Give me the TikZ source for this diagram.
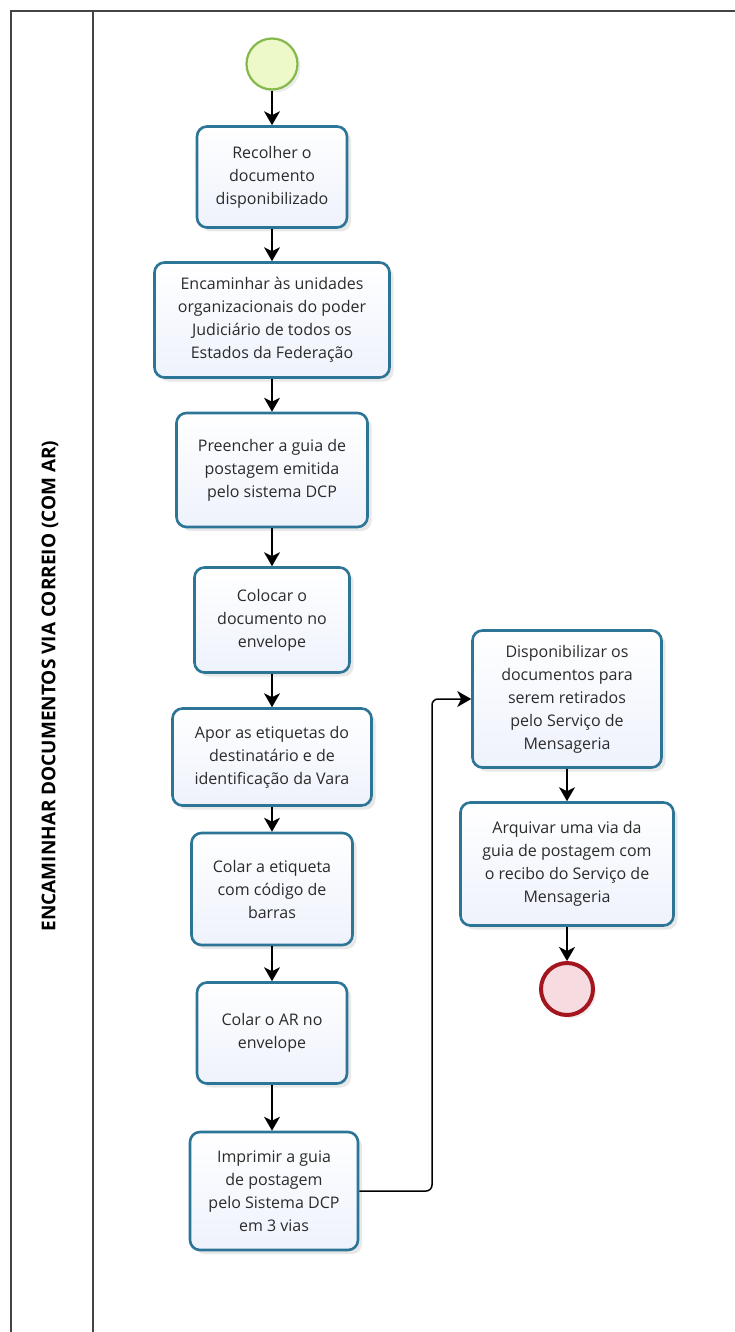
\documentclass[tikz,border=0pt]{standalone}
\usepackage{fontspec}
\setmainfont{Open Sans}
\usetikzlibrary{arrows.meta,shadows,positioning}
\definecolor{boxborder}{HTML}{2C7596}
\definecolor{boxfill}{HTML}{EEF2FC}
\definecolor{txt}{HTML}{2B2B2B}
\definecolor{startfill}{HTML}{EDF9C9}
\definecolor{startborder}{HTML}{86B84B}
\definecolor{endfill}{HTML}{F6DCE0}
\definecolor{endborder}{HTML}{A3161F}
\definecolor{lanecol}{HTML}{444444}
\tikzset{
  task/.style={draw=boxborder, line width=2.6pt, rounded corners=10pt,
    top color=white, bottom color=boxfill, text=txt, align=center,
    font=\fontsize{16}{23}\selectfont, inner sep=0pt,
    drop shadow={shadow xshift=4pt, shadow yshift=-4pt, opacity=0.18, fill=gray}},
  startev/.style={circle, draw=startborder, line width=2.2pt, fill=startfill,
    minimum size=51pt, inner sep=0pt,
    drop shadow={shadow xshift=3pt, shadow yshift=-3pt, opacity=0.15, fill=gray}},
  endev/.style={circle, draw=endborder, line width=4pt, fill=endfill,
    minimum size=52pt, inner sep=0pt,
    drop shadow={shadow xshift=3pt, shadow yshift=-3pt, opacity=0.15, fill=gray}},
  flow/.style={draw=black, line width=1.5pt, -{Stealth[length=14pt,width=16pt,inset=4pt]}},
  laneline/.style={draw=lanecol, line width=1.6pt}
}
\begin{document}
\begin{tikzpicture}[x=1pt,y=-1pt]
\useasboundingbox (0,0) rectangle (735,1332);
% pool / lane
\coordinate (tl) at (11,11);
\coordinate (tr) at (735,11);
\coordinate (bl) at (11,1332);
\coordinate (dt) at (93,11);
\coordinate (db) at (93,1332);
\draw[laneline] (bl) -- (tl) -- (tr);
\draw[laneline] (dt) -- (db);
\node[rotate=90, font=\fontsize{19}{22}\selectfont\bfseries, text=black] (title) at (50,686) {ENCAMINHAR DOCUMENTOS VIA CORREIO (COM AR)};

% events and tasks
\node[startev] (start) at (272,64) {};
\node[task, minimum width=150pt, minimum height=101pt] (b1) at (272,177) {Recolher o\\documento\\disponibilizado};
\node[task, minimum width=235pt, minimum height=115pt] (b2) at (272,320) {Encaminhar às unidades\\organizacionais do poder\\Judiciário de todos os\\Estados da Federação};
\node[task, minimum width=191pt, minimum height=114pt] (b3) at (272,470) {Preencher a guia de\\postagem emitida\\pelo sistema DCP};
\node[task, minimum width=155pt, minimum height=105pt] (b4) at (272,620) {Colocar o\\documento no\\envelope};
\node[task, minimum width=199pt, minimum height=97pt] (b5) at (272,757) {Apor as etiquetas do\\destinatário e de\\identificação da Vara};
\node[task, minimum width=161pt, minimum height=112pt] (b6) at (272,889) {Colar a etiqueta\\com código de\\barras};
\node[task, minimum width=150pt, minimum height=101pt] (b7) at (272,1033) {Colar o AR no\\envelope};
\node[task, minimum width=168pt, minimum height=118pt] (b8) at (274,1191) {Imprimir a guia\\de postagem\\pelo Sistema DCP\\em 3 vias};
\node[task, minimum width=189pt, minimum height=137pt] (b9) at (567,699) {Disponibilizar os\\documentos para\\serem retirados\\pelo Serviço de\\Mensageria};
\node[task, minimum width=213pt, minimum height=123pt] (b10) at (567,864) {Arquivar uma via da\\guia de postagem com\\o recibo do Serviço de\\Mensageria};
\node[endev] (end) at (567,989) {};

% flows
\draw[flow] (start) -- (b1);
\draw[flow] (b1) -- (b2);
\draw[flow] (b2) -- (b3);
\draw[flow] (b3) -- (b4);
\draw[flow] (b4) -- (b5);
\draw[flow] (b5) -- (b6);
\draw[flow] (b6) -- (b7);
\draw[flow] (b7.south) -- (b7.south |- b8.north);
\coordinate (turn) at (432,1191);
\draw[flow, rounded corners=6pt] (b8.east) -- (turn) |- (b9.west);
\draw[flow] (b9) -- (b10);
\draw[flow] (b10) -- (end);
\end{tikzpicture}
\end{document}
